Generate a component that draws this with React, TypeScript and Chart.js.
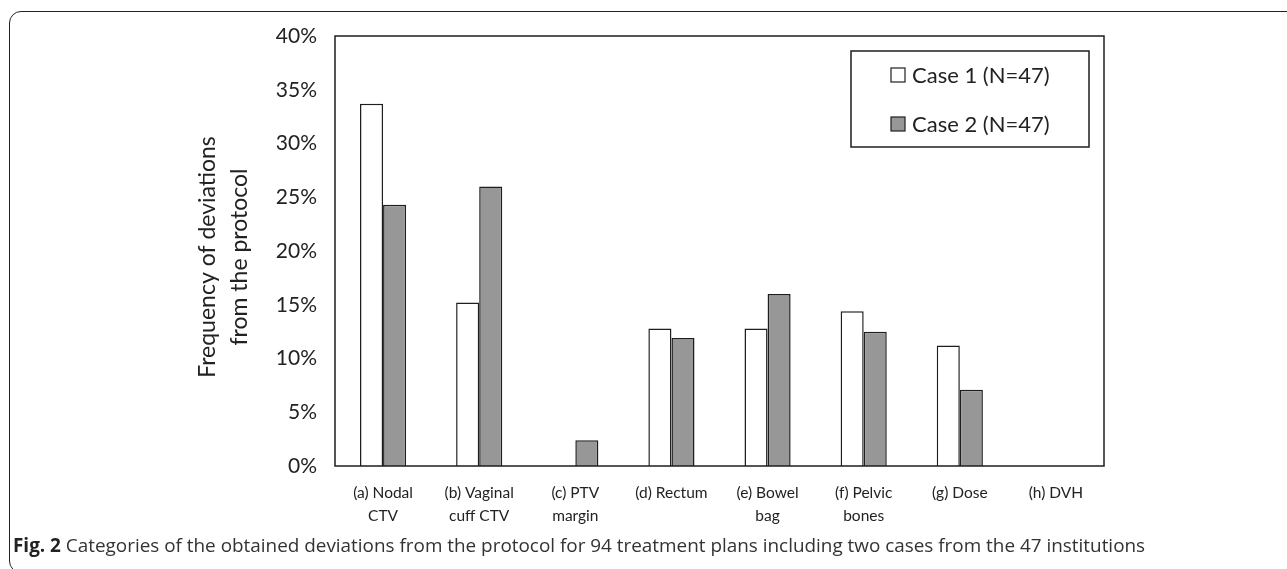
import React, { useEffect, useRef } from "react";
import { Chart, registerables } from "chart.js";

Chart.register(...registerables);

const categories: string[][] = [
  ["(a) Nodal", "CTV"],
  ["(b) Vaginal", "cuff CTV"],
  ["(c) PTV", "margin"],
  ["(d) Rectum"],
  ["(e) Bowel", "bag"],
  ["(f) Pelvic", "bones"],
  ["(g) Dose"],
  ["(h) DVH"],
];
const case1Values = [33.7, 15.2, 0, 12.8, 12.8, 14.4, 11.2, 0];
const case2Values = [24.3, 26.0, 2.4, 11.9, 16.0, 12.5, 7.1, 0];
const seriesLabels = ["Case 1 (N=47)", "Case 2 (N=47)"];
const yTitleLines = ["Frequency of deviations", "from the protocol"];

const INK = "#1e1e1e";
const GRAY = "#979797";
const FONT = "Lato, 'Open Sans', sans-serif";

const decorPlugin = {
  id: "decor",
  afterDraw(chart: any) {
    const { ctx, chartArea: a } = chart;
    ctx.save();
    // plot box
    ctx.strokeStyle = INK;
    ctx.lineWidth = 1.5;
    ctx.strokeRect(a.left, a.top, a.right - a.left, a.bottom - a.top);

    // y title
    ctx.fillStyle = "#222";
    ctx.font = `23px ${FONT}`;
    ctx.textAlign = "center";
    ctx.textBaseline = "middle";
    const cy = (a.top + a.bottom) / 2 + 6;
    [a.left - 127, a.left - 95].forEach((x, i) => {
      ctx.save();
      ctx.translate(x, cy);
      ctx.rotate(-Math.PI / 2);
      ctx.fillText(yTitleLines[i], 0, 0);
      ctx.restore();
    });

    // legend
    const lx = a.right - 253;
    const ly = a.top + 15;
    const lw = 238;
    const lh = 96;
    ctx.fillStyle = "#fff";
    ctx.fillRect(lx, ly, lw, lh);
    ctx.strokeStyle = INK;
    ctx.lineWidth = 1.5;
    ctx.strokeRect(lx, ly, lw, lh);
    const fills = ["#ffffff", GRAY];
    const rowsY = [ly + 24, ly + 73];
    ctx.font = `22px ${FONT}`;
    ctx.textAlign = "left";
    ctx.textBaseline = "middle";
    rowsY.forEach((ry, i) => {
      ctx.fillStyle = fills[i];
      ctx.fillRect(lx + 40, ry - 7, 14, 14);
      ctx.strokeStyle = INK;
      ctx.lineWidth = 1.2;
      ctx.strokeRect(lx + 40, ry - 7, 14, 14);
      ctx.fillStyle = "#222";
      ctx.fillText(seriesLabels[i], lx + 61, ry + 1);
    });
    ctx.restore();
  },
};

export default function App() {
  const ref = useRef<HTMLCanvasElement | null>(null);

  useEffect(() => {
    if (!ref.current) return;
    const chart = new Chart(ref.current, {
      type: "bar",
      data: {
        labels: categories,
        datasets: [
          {
            label: seriesLabels[0],
            data: case1Values,
            backgroundColor: "#ffffff",
            borderColor: INK,
            borderWidth: 1.5,
          },
          {
            label: seriesLabels[1],
            data: case2Values,
            backgroundColor: GRAY,
            borderColor: INK,
            borderWidth: 1.5,
          },
        ],
      },
      options: {
        animation: false,
        responsive: false,
        devicePixelRatio: 1,
        datasets: { bar: { categoryPercentage: 0.48, barPercentage: 1.0 } },
        layout: { padding: { left: 0, top: 36, right: 183, bottom: 0 } },
        plugins: {
          legend: { display: false },
          tooltip: { enabled: false },
        },
        scales: {
          x: {
            grid: { display: false, drawTicks: false },
            border: { display: false },
            ticks: {
              color: "#222",
              font: { family: FONT, size: 15.5, lineHeight: 1.5 },
              padding: 15,
              maxRotation: 0,
              autoSkip: false,
            },
            afterFit: (s: any) => {
              s.height = 103;
            },
          },
          y: {
            min: 0,
            max: 40,
            grid: { display: false, drawTicks: false },
            border: { display: false },
            ticks: {
              stepSize: 5,
              color: "#222",
              font: { family: FONT, size: 21 },
              padding: 18,
              callback: (v: any) => `${v}%`,
            },
            afterFit: (s: any) => {
              s.width = 335;
            },
          },
        },
      },
      plugins: [decorPlugin],
    });
    return () => chart.destroy();
  }, []);

  return (
    <div style={{ position: "fixed", left: 0, top: 0, width: 1287, height: 569, overflow: "hidden", background: "#fff" }}>
      <div
        style={{
          position: "absolute",
          left: 9,
          top: 11,
          width: 1300,
          height: 562,
          border: "1.5px solid #222",
          borderRadius: 12,
          boxSizing: "border-box",
        }}
      />
      <canvas ref={ref} width={1287} height={569} style={{ position: "absolute", left: 0, top: 0 }} />
      <div
        style={{
          position: "absolute",
          left: 13,
          top: 532,
          fontFamily: "'Open Sans', sans-serif",
          fontSize: 18.9,
          lineHeight: "26px",
          color: "#333",
          whiteSpace: "nowrap",
        }}
      >
        <b style={{ color: "#222" }}>Fig. 2</b> Categories of the obtained deviations from the protocol for 94 treatment plans including two cases from the 47 institutions
      </div>
    </div>
  );
}
